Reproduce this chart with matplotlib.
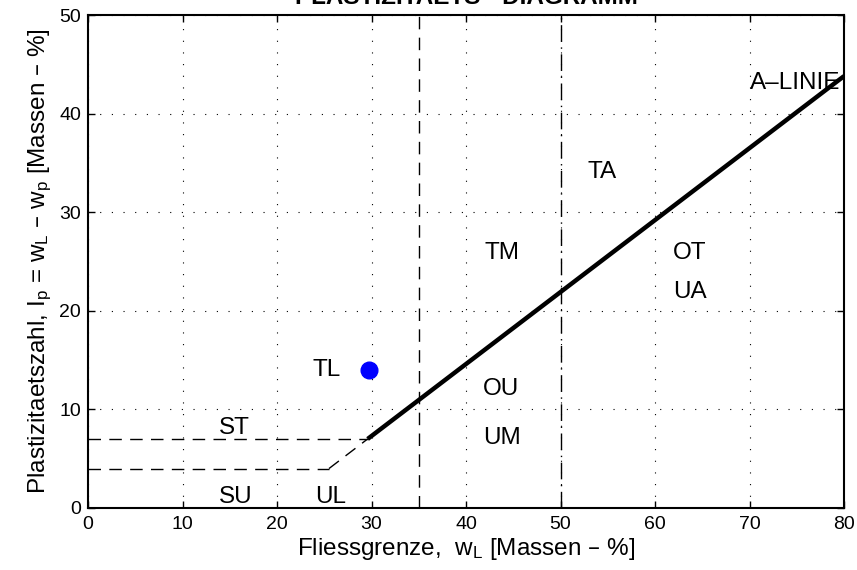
import numpy as np
import matplotlib
matplotlib.use("Agg")
import matplotlib.pyplot as plt

plt.rcParams['font.family'] = ['Liberation Sans', 'DejaVu Sans']
plt.rcParams['mathtext.default'] = 'regular'

# A-Linie: Ip = 0.73 * (wL - 20), ab Ip = 7 bis wL = 80
a_slope = 0.73
a_offset = 20
wl_aline = [a_offset + 7 / a_slope, 80]

# gestrichelte Grenzen im unteren Bereich
st_line_x = [0, a_offset + 7 / a_slope]
st_line_y = [7, 7]
su_line_x = [0, 25.5]
su_line_y = [4, 4]
link_x = [25.5, a_offset + 7 / a_slope]
link_y = [4, 7]

# Probe
probe_wl = [29.7]
probe_ip = [14]

# Bodengruppen-Beschriftungen
group_labels = ['TL', 'ST', 'SU', 'UL', 'TM', 'TA', 'OT', 'UA', 'OU', 'UM', 'A\u2013LINIE']
group_x = [23.8, 13.8, 13.9, 24.0, 42.0, 52.9, 61.9, 61.9, 41.8, 41.8, 70.0]
group_y = [14.0, 8.1, 1.1, 1.1, 25.9, 34.1, 25.9, 21.9, 12.1, 7.1, 43.1]

fig = plt.figure(figsize=(8.57, 5.70), dpi=100)
ax = fig.add_axes([88 / 857, 62 / 570, 756 / 857, 493 / 570])

ax.set_xlim(0, 80)
ax.set_ylim(0, 50)
ax.set_xticks(np.arange(0, 81, 10))
ax.set_yticks(np.arange(0, 51, 10))
ax.grid(True, color='black', linestyle=(0, (1, 9.5)), linewidth=0.8)

# Grenzen wL = 35 und wL = 50
ax.axvline(35, color='black', linewidth=1, dashes=(9, 6))
ax.axvline(50, color='black', linewidth=1, linestyle=(0, (12, 4, 1, 4)))

wl = np.array(wl_aline)
ax.plot(wl, a_slope * (wl - a_offset), color='black', linewidth=3.2, solid_capstyle='butt')

ax.plot(st_line_x, st_line_y, color='black', linewidth=1, dashes=(9, 6))
ax.plot(su_line_x, su_line_y, color='black', linewidth=1, dashes=(9, 6))
ax.plot(link_x, link_y, color='black', linewidth=1, dashes=(9, 6))

ax.plot(probe_wl, probe_ip, 'o', color='blue', markersize=12)

for lab, x, y in zip(group_labels, group_x, group_y):
    ax.text(x, y, lab, fontsize=17.5, ha='left', va='center')

ax.set_title('PLASTIZITAETS - DIAGRAMM', fontsize=17.5, fontweight='bold', pad=8)
ax.set_xlabel('Fliessgrenze,  $\\mathregular{w_L}$ [Massen \u2013 %]', fontsize=17.5, labelpad=2)
ax.set_ylabel('Plastizitaetszahl, $\\mathregular{I_p}$ = $\\mathregular{w_L}$ \u2013 $\\mathregular{w_p}$ [Massen \u2013 %]',
              fontsize=17.5, labelpad=4)

ax.tick_params(direction='in', top=True, right=True, length=5, width=1, labelsize=14)
ax.tick_params(axis='x', pad=6)
ax.tick_params(axis='y', pad=5)
for sp in ax.spines.values():
    sp.set_linewidth(1.5)

fig.savefig('out.png', dpi=100)
